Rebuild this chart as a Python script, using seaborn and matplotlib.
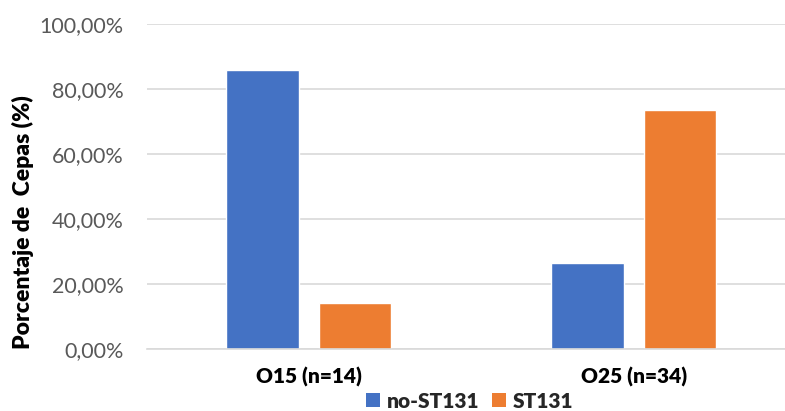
import matplotlib
matplotlib.use("Agg")
import matplotlib.pyplot as plt
import seaborn as sns
import pandas as pd
from matplotlib.ticker import FuncFormatter
from matplotlib.patches import Patch

# Data: percentage of strains per serogroup
categories = ["O15 (n=14)", "O25 (n=34)"]
groups = ["no-ST131", "ST131"]
no_st131 = [85.71, 26.47]
st131 = [14.29, 73.53]
yticks = [0, 20, 40, 60, 80, 100]

colors = {"no-ST131": "#4472C4", "ST131": "#ED7D31"}

df = pd.DataFrame({
    "Categoria": categories * 2,
    "Grupo": [groups[0]] * len(categories) + [groups[1]] * len(categories),
    "Valor": no_st131 + st131,
})

sns.set_theme(style="white")
plt.rcParams["font.family"] = ["Lato", "DejaVu Sans"]

fig = plt.figure(figsize=(7.85, 4.11), dpi=100)
ax = fig.add_axes([147 / 785, 62 / 411, (785 - 147) / 785, 325 / 411])

sns.barplot(data=df, x="Categoria", y="Valor", hue="Grupo", palette=colors,
            width=0.57, gap=0.22, ax=ax, legend=False, saturation=1)

ax.set_xlim(-0.498, 1.465)
ax.set_ylim(0, 100)
ax.set_yticks(yticks)
ax.yaxis.set_major_formatter(FuncFormatter(lambda v, p: f"{v:.2f}%".replace(".", ",")))
ax.grid(axis="y", color="#d9d9d9", linewidth=1.2)
ax.set_axisbelow(True)
for s in ["top", "right", "left"]:
    ax.spines[s].set_visible(False)
ax.spines["bottom"].set_color("#d9d9d9")
ax.spines["bottom"].set_linewidth(1.2)

ax.tick_params(axis="y", length=0, pad=17, labelsize=15.5, labelcolor="#595959")
ax.tick_params(axis="x", length=0, pad=13, labelsize=15)
for t in ax.get_xticklabels():
    t.set_fontweight("heavy")
    t.set_color("black")

ax.set_xlabel("")
ax.set_ylabel("")
fig.text(23 / 785, (411 - 222) / 411, "Porcentaje de  Cepas (%)",
         rotation=90, ha="center", va="center",
         fontsize=16.5, fontweight="heavy", color="black")

handles = [Patch(facecolor=colors[g], edgecolor="none") for g in groups]
fig.legend(handles, groups, loc="center", bbox_to_anchor=(470 / 785, 10 / 411),
           ncol=2, frameon=False, handlelength=0.65, handleheight=0.65,
           handletextpad=0.35, columnspacing=0.6,
           prop={"weight": "heavy", "size": 15})

fig.savefig("out.png", dpi=100)
